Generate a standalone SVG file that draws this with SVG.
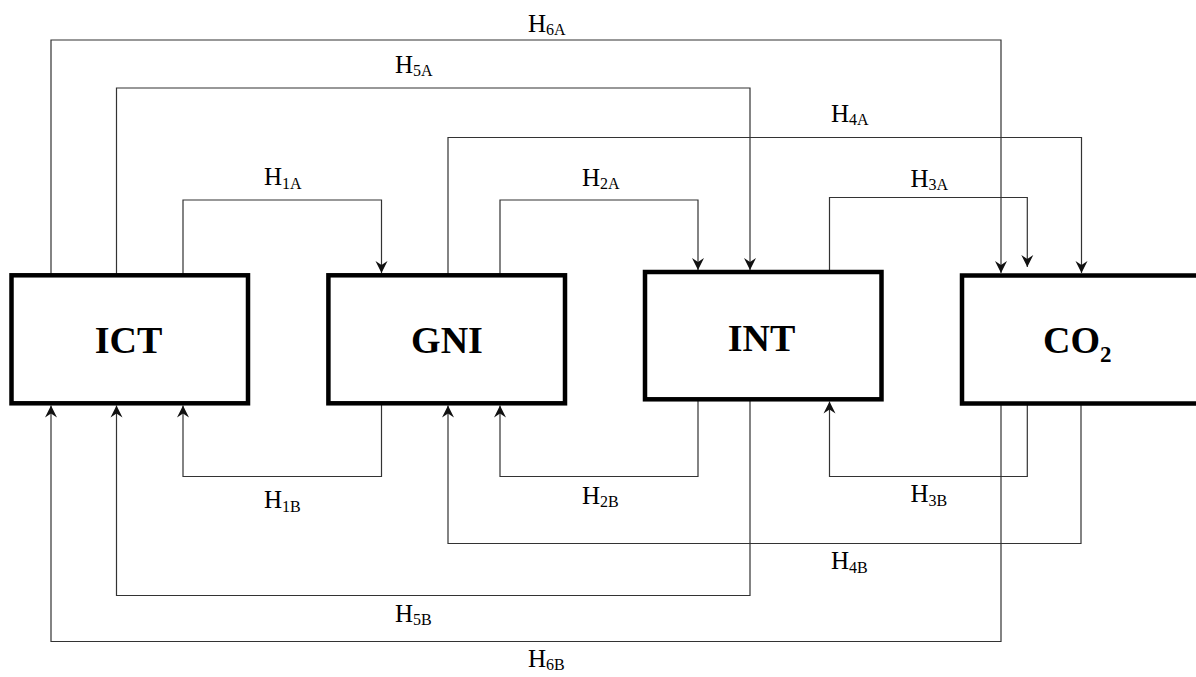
<svg xmlns="http://www.w3.org/2000/svg" width="1196" height="677" viewBox="0 0 1196 677">
<defs>
<marker id="arr" markerUnits="userSpaceOnUse" markerWidth="20" markerHeight="20" refX="0" refY="0" orient="auto" overflow="visible">
<path d="M0,0 L-12,-6 L-8,0 L-12,6 Z" fill="#111"/>
</marker>
<style>
.box{fill:#fff;stroke:#000;stroke-width:4.5}
.nt{font-family:"Liberation Serif","Times New Roman",serif;font-weight:bold;font-size:38px;fill:#000}
.ln{fill:none;stroke:#333;stroke-width:1.2;marker-end:url(#arr)}
.lb{font-family:"Liberation Serif","Times New Roman",serif;font-size:25px;fill:#000}
.sb{font-size:16px}
</style>
</defs>
<rect width="1196" height="677" fill="#fff"/>
<g id="connectors">
<g id="H1A"><path class="ln" d="M183,275 V200 H381.5 V273"/><text class="lb" x="264" y="185">H<tspan class="sb" dy="3.5">1A</tspan></text></g>
<g id="H2A"><path class="ln" d="M500,275 V200 H698 V270"/><text class="lb" x="582" y="185.5">H<tspan class="sb" dy="3.5">2A</tspan></text></g>
<g id="H3A"><path class="ln" d="M829.5,272 V197.5 H1027.3 V267"/><text class="lb" x="910.5" y="186.5">H<tspan class="sb" dy="3.5">3A</tspan></text></g>
<g id="H4A"><path class="ln" d="M448,275 V137.5 H1081.5 V273"/><text class="lb" x="831" y="121.7">H<tspan class="sb" dy="3.5">4A</tspan></text></g>
<g id="H5A"><path class="ln" d="M116.5,275 V88 H750 V270"/><text class="lb" x="395" y="72.7">H<tspan class="sb" dy="3.5">5A</tspan></text></g>
<g id="H6A"><path class="ln" d="M51,275 V40 H1001 V273"/><text class="lb" x="528" y="31.7">H<tspan class="sb" dy="3.5">6A</tspan></text></g>
<g id="H1B"><path class="ln" d="M381.5,403 V476.5 H183 V405.5"/><text class="lb" x="264" y="508.3">H<tspan class="sb" dy="3.5">1B</tspan></text></g>
<g id="H2B"><path class="ln" d="M698,399 V476.5 H500 V405.5"/><text class="lb" x="582" y="503.5">H<tspan class="sb" dy="3.5">2B</tspan></text></g>
<g id="H3B"><path class="ln" d="M1027.3,403 V476.5 H829.5 V401.5"/><text class="lb" x="910.5" y="502.3">H<tspan class="sb" dy="3.5">3B</tspan></text></g>
<g id="H4B"><path class="ln" d="M1081,403 V543.5 H448 V405.5"/><text class="lb" x="831" y="569.3">H<tspan class="sb" dy="3.5">4B</tspan></text></g>
<g id="H5B"><path class="ln" d="M750,399 V595.5 H116.5 V405.5"/><text class="lb" x="395" y="621.7">H<tspan class="sb" dy="3.5">5B</tspan></text></g>
<g id="H6B"><path class="ln" d="M1001,403 V641.5 H51 V405.5"/><text class="lb" x="528" y="666.7">H<tspan class="sb" dy="3.5">6B</tspan></text></g>
</g>
<g id="ICT"><rect class="box" x="11.5" y="275.3" width="236.5" height="128"/><text class="nt" x="128.5" y="353" text-anchor="middle">ICT</text></g>
<g id="GNI"><rect class="box" x="328.4" y="275.3" width="236.6" height="128"/><text class="nt" x="447" y="353" text-anchor="middle">GNI</text></g>
<g id="INT"><rect class="box" x="645" y="272" width="236.5" height="127.3"/><text class="nt" x="761.5" y="350.7" text-anchor="middle">INT</text></g>
<g id="CO2"><rect class="box" x="962" y="275.5" width="250" height="128"/><text class="nt" x="1043" y="353">CO<tspan font-size="23" dy="8.5">2</tspan></text></g>
</svg>
